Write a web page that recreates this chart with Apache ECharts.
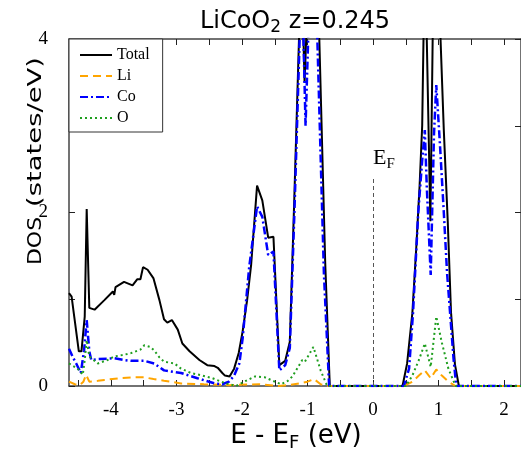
<!DOCTYPE html>
<html>
<head>
<meta charset="utf-8">
<script src="https://cdn.jsdelivr.net/npm/echarts@6/dist/echarts.min.js"></script>
<style>
  html, body { margin: 0; padding: 0; background: #fff; }
  #chart { width: 521px; height: 452px; }
</style>
</head>
<body>
<div id="chart"></div>
<script>
// Projected density of states for LiCoO2, [E - E_F (eV), DOS (states/eV)]
const totalDos = [
  [-4.64, 1.07], [-4.60, 1.03], [-4.56, 0.80], [-4.49, 0.40], [-4.45, 0.40],
  [-4.40, 0.80], [-4.37, 2.04], [-4.33, 0.90], [-4.25, 0.88], [-4.10, 0.99],
  [-3.97, 1.09], [-3.95, 1.05], [-3.93, 1.14], [-3.80, 1.20], [-3.67, 1.16],
  [-3.60, 1.23], [-3.55, 1.23], [-3.51, 1.37], [-3.44, 1.34], [-3.35, 1.24],
  [-3.26, 0.99], [-3.19, 0.77], [-3.14, 0.73], [-3.07, 0.76], [-2.98, 0.65],
  [-2.91, 0.49], [-2.80, 0.40], [-2.65, 0.30], [-2.53, 0.24], [-2.42, 0.23],
  [-2.37, 0.21], [-2.30, 0.15], [-2.26, 0.12], [-2.19, 0.11], [-2.12, 0.20],
  [-2.05, 0.38], [-1.99, 0.63], [-1.92, 1.00], [-1.86, 1.40], [-1.77, 2.31],
  [-1.69, 2.14], [-1.60, 1.71], [-1.52, 1.72], [-1.43, 0.24], [-1.34, 0.29],
  [-1.27, 0.51], [-1.20, 2.20], [-1.13, 4.00], [-1.09, 4.80], [-1.045, 3.50],
  [-0.97, 5.00], [-0.82, 4.00], [-0.73, 1.42], [-0.66, 0.00], [0.45, 0.00],
  [0.52, 0.26], [0.60, 0.84], [0.66, 1.60], [0.71, 2.30], [0.75, 3.00],
  [0.77, 4.00], [0.79, 4.60], [0.82, 4.00], [0.875, 1.90], [0.91, 4.00],
  [0.97, 5.00], [1.03, 4.00], [1.08, 2.95], [1.14, 1.90], [1.19, 0.85],
  [1.25, 0.25], [1.31, 0.00], [2.26, 0.00]
];
const liDos = [
  [-4.64, 0.05], [-4.55, 0.02], [-4.48, 0.01], [-4.42, 0.05], [-4.38, 0.13],
  [-4.33, 0.05], [-4.20, 0.06], [-4.10, 0.07], [-3.85, 0.09], [-3.65, 0.10],
  [-3.49, 0.10], [-3.35, 0.08], [-3.19, 0.06], [-2.93, 0.03], [-2.58, 0.02],
  [-2.20, 0.01], [-1.74, 0.02], [-1.44, 0.00], [-1.30, 0.01], [-1.13, 0.03],
  [-1.00, 0.05], [-0.90, 0.08], [-0.80, 0.02], [-0.70, 0.00], [0.47, 0.00],
  [0.60, 0.05], [0.70, 0.12], [0.79, 0.18], [0.88, 0.09], [0.965, 0.19],
  [1.05, 0.12], [1.15, 0.05], [1.26, 0.00], [2.26, 0.00]
];
const coDos = [
  [-4.64, 0.43], [-4.58, 0.33], [-4.53, 0.26], [-4.46, 0.15], [-4.41, 0.41],
  [-4.37, 0.76], [-4.33, 0.40], [-4.30, 0.30], [-4.20, 0.31], [-3.95, 0.32],
  [-3.80, 0.30], [-3.69, 0.29], [-3.49, 0.29], [-3.34, 0.26], [-3.19, 0.18],
  [-2.93, 0.15], [-2.68, 0.09], [-2.42, 0.03], [-2.30, 0.02], [-2.20, 0.05],
  [-2.12, 0.12], [-2.04, 0.26], [-1.99, 0.55], [-1.89, 1.37], [-1.77, 2.07],
  [-1.69, 1.95], [-1.60, 1.51], [-1.52, 1.55], [-1.43, 0.18], [-1.34, 0.24],
  [-1.27, 0.44], [-1.20, 2.00], [-1.12, 4.00], [-1.08, 4.60], [-1.03, 3.00],
  [-0.95, 5.00], [-0.85, 4.00], [-0.75, 1.30], [-0.67, 0.00], [0.47, 0.00],
  [0.55, 0.20], [0.61, 0.84], [0.69, 2.00], [0.75, 2.60], [0.79, 2.95],
  [0.82, 2.30], [0.88, 1.28], [0.93, 2.90], [0.965, 3.47], [1.02, 2.80],
  [1.08, 2.00], [1.13, 1.30], [1.18, 0.80], [1.23, 0.30], [1.27, 0.00],
  [2.26, 0.00]
];
const oDos = [
  [-4.64, 0.26], [-4.51, 0.20], [-4.43, 0.13], [-4.40, 0.30], [-4.37, 0.53],
  [-4.33, 0.34], [-4.20, 0.26], [-4.05, 0.30], [-3.95, 0.34], [-3.80, 0.36],
  [-3.69, 0.38], [-3.55, 0.42], [-3.49, 0.47], [-3.40, 0.45], [-3.34, 0.41],
  [-3.26, 0.33], [-3.19, 0.28], [-3.03, 0.26], [-2.93, 0.20], [-2.78, 0.15],
  [-2.60, 0.12], [-2.45, 0.09], [-2.25, 0.03], [-2.09, 0.00], [-1.94, 0.06],
  [-1.80, 0.11], [-1.65, 0.10], [-1.50, 0.05], [-1.40, 0.02], [-1.30, 0.06],
  [-1.23, 0.11], [-1.08, 0.30], [-1.04, 0.28], [-0.91, 0.45], [-0.80, 0.18],
  [-0.70, 0.00], [0.50, 0.00], [0.60, 0.12], [0.70, 0.30], [0.79, 0.49],
  [0.88, 0.22], [0.965, 0.80], [1.05, 0.50], [1.15, 0.20], [1.26, 0.00],
  [2.26, 0.00]
];

// Axis ranges and tick positions
const xRange = [-4.64, 2.258];
const yRange = [0, 4];
const xTickLabels = [-4, -3, -2, -1, 0, 1, 2];
const xTicks = [-4.5, -4, -3.5, -3, -2.5, -2, -1.5, -1, -0.5, 0, 0.5, 1, 1.5, 2];
const yTickLabels = [0, 2, 4];
const yTicks = [0, 1, 2, 3, 4];
const fermiLineTop = 2.4;

const serif = '"Liberation Serif", "Times New Roman", serif';
const sans = '"DejaVu Sans", Verdana, sans-serif';
const frame = '#444';

const chart = echarts.init(document.getElementById('chart'), null, { renderer: 'canvas' });

function frameAxis(pos, extra) {
  return Object.assign({
    type: 'value',
    position: pos,
    z: 3,
    axisLine: { show: true, onZero: false, lineStyle: { color: frame, width: 1.5 } },
    axisTick: { show: true, inside: true, length: 6, lineStyle: { color: '#222', width: 1 } },
    axisLabel: { show: false },
    splitLine: { show: false }
  }, extra);
}

const tickStyle = { color: '#222', width: 1 };

const option = {
  animation: false,
  backgroundColor: '#fff',
  grid: { left: 69, top: 39, width: 453, height: 347, containLabel: false },
  xAxis: [
    frameAxis('bottom', {
      min: xRange[0], max: xRange[1],
      axisTick: { show: true, inside: true, length: 6, customValues: xTicks, lineStyle: tickStyle },
      axisLabel: { show: true, customValues: xTickLabels, margin: 15, color: '#000', fontFamily: serif, fontSize: 19 }
    }),
    frameAxis('top', {
      min: xRange[0], max: xRange[1],
      axisTick: { show: true, inside: true, length: 6, customValues: xTicks, lineStyle: tickStyle }
    })
  ],
  yAxis: [
    frameAxis('left', {
      min: yRange[0], max: yRange[1],
      axisTick: { show: true, inside: true, length: 6, customValues: yTicks, lineStyle: tickStyle },
      axisLabel: { show: true, customValues: yTickLabels, margin: 21, color: '#000', fontFamily: serif, fontSize: 19 }
    }),
    frameAxis('right', {
      min: yRange[0], max: yRange[1],
      axisTick: { show: true, inside: true, length: 6, customValues: yTicks, lineStyle: tickStyle }
    })
  ],
  legend: {
    data: ['Total', 'Li', 'Co', 'O'],
    orient: 'vertical',
    left: 69, top: 39,
    itemWidth: 32, itemHeight: 14, itemGap: 5,
    padding: [8, 13, 6, 10],
    borderColor: '#333', borderWidth: 1,
    backgroundColor: '#fff',
    itemStyle: { opacity: 0 },
    textStyle: { fontFamily: serif, fontSize: 16, color: '#000' }
  },
  series: [
    {
      name: 'Total', type: 'line', data: totalDos, symbol: 'none', clip: true,
      lineStyle: { color: '#000', width: 2 }, itemStyle: { color: '#000' }
    },
    {
      name: 'Li', type: 'line', data: liDos, symbol: 'none', clip: true,
      lineStyle: { color: '#FFA500', width: 2, type: [8, 5] }, itemStyle: { color: '#FFA500' }
    },
    {
      name: 'Co', type: 'line', data: coDos, symbol: 'none', clip: true,
      lineStyle: { color: '#0000FF', width: 2.5, type: [8, 3, 2, 3] }, itemStyle: { color: '#0000FF' }
    },
    {
      name: 'O', type: 'line', data: oDos, symbol: 'none', clip: true,
      lineStyle: { color: '#1E9E1E', width: 2, type: [2, 3] }, itemStyle: { color: '#1E9E1E' },
      markLine: {
        silent: true, symbol: 'none', animation: false,
        label: { show: false },
        lineStyle: { color: '#555', width: 1, type: [4, 3] },
        data: [[{ coord: [0, 0] }, { coord: [0, fermiLineTop] }]]
      }
    }
  ],
  graphic: [
    {
      type: 'text', x: 295, y: 22,
      style: {
        text: '{a|LiCoO}{s|2}{a| z=0.245}',
        align: 'center', verticalAlign: 'middle', fill: '#000',
        rich: {
          a: { fontFamily: sans, fontSize: 24, fill: '#000' },
          s: { fontFamily: sans, fontSize: 17, fill: '#000', padding: [12, 0, 0, 0] }
        }
      }
    },
    {
      type: 'text', x: 296, y: 436,
      style: {
        text: '{a|E - E}{s|F}{a| (eV)}',
        align: 'center', verticalAlign: 'middle', fill: '#000',
        rich: {
          a: { fontFamily: sans, fontSize: 26, fill: '#000' },
          s: { fontFamily: sans, fontSize: 18, fill: '#000', padding: [14, 0, 0, 0] }
        }
      }
    },
    // vertical axis title, drawn in two pieces around the "2" tick label
    {
      type: 'text', x: 36, y: 241, rotation: Math.PI / 2, scaleX: 1.1, z: -1,
      style: {
        text: 'DOS',
        align: 'center', verticalAlign: 'middle', fill: '#000',
        font: '20px ' + sans
      }
    },
    {
      type: 'text', x: 36, y: 132, rotation: Math.PI / 2, scaleX: 1.37, z: -1,
      style: {
        text: '(states/eV)',
        align: 'center', verticalAlign: 'middle', fill: '#000',
        font: '20px ' + sans
      }
    },
    {
      type: 'text', x: 373, y: 158,
      style: {
        text: '{a|E}{s|F}',
        align: 'left', verticalAlign: 'middle', fill: '#000',
        rich: {
          a: { fontFamily: serif, fontSize: 22, fill: '#000' },
          s: { fontFamily: serif, fontSize: 15, fill: '#000', padding: [12, 0, 0, 0] }
        }
      }
    }
  ]
};

chart.setOption(option);
</script>
</body>
</html>
